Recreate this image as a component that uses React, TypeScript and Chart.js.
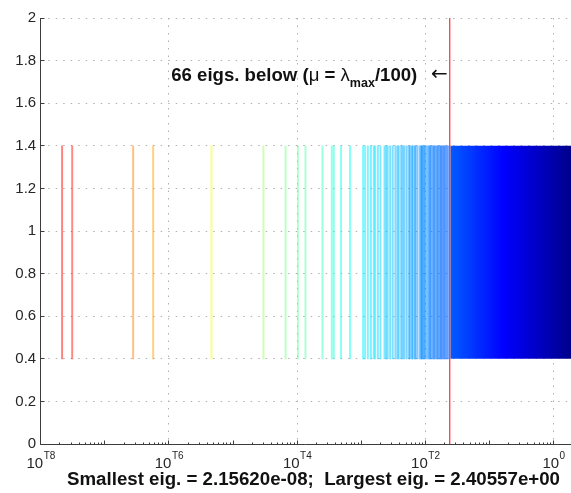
import { useEffect, useRef } from "react";
import { Chart, registerables } from "chart.js";

Chart.register(...registerables);

// ---- data ----
const eigsBelow: number[] = [
  2.1562e-8, 3.10e-8, 2.77e-7, 5.68e-7, 4.61e-6, 2.98e-5, 6.62e-5, 1.03e-4, 1.35e-4, 2.49e-4,
  3.48e-4, 3.74e-4, 4.84e-4, 6.70e-4, 1.07e-3, 1.15e-3, 1.27e-3, 1.42e-3, 1.57e-3, 1.65e-3,
  1.82e-3, 2.00e-3, 2.31e-3, 2.45e-3, 2.59e-3, 2.83e-3, 3.10e-3, 3.42e-3, 3.68e-3, 3.85e-3,
  4.20e-3, 4.45e-3, 4.72e-3, 5.13e-3, 5.57e-3, 5.79e-3, 6.19e-3, 6.37e-3, 6.84e-3, 7.02e-3,
  7.53e-3, 8.20e-3, 8.61e-3, 8.85e-3, 9.02e-3, 9.51e-3, 9.75e-3, 1.03e-2, 1.10e-2, 1.16e-2,
  1.19e-2, 1.24e-2, 1.31e-2, 1.36e-2, 1.41e-2, 1.49e-2, 1.55e-2, 1.60e-2, 1.69e-2, 1.75e-2,
  1.82e-2, 1.91e-2, 1.98e-2, 2.06e-2, 2.17e-2, 2.29e-2,
];
const smallestEig = 2.1562e-8;
const largestEig = 2.40557;
const denseStart = 2.45e-2; // start of the continuous (dense) band of eigenvalues
const mu = largestEig / 100;
const lineRange: [number, number] = [0.4, 1.4];

const yTickValues = [0, 0.2, 0.4, 0.6, 0.8, 1, 1.2, 1.4, 1.6, 1.8, 2];
const xLabelDecades = [1e-8, 1e-6, 1e-4, 1e-2, 1];
const xLabelExponents = ["T8", "T6", "T4", "T2", "0"];
const xMin = 1e-8;
const xMax = 1.875;
const yMin = 0;
const yMax = 2;

const annotationText = "66 eigs. below (";
const titleText = "Smallest eig. = 2.15620e-08;  Largest eig. = 2.40557e+00";

// ---- colormap (jet, reversed over log eigenvalue) ----
const clamp = (v: number) => Math.max(0, Math.min(1, v));
function jetColor(v: number, alpha: number): string {
  const lMin = Math.log10(smallestEig);
  const lMax = Math.log10(largestEig);
  const t = (0.87 * (lMax - Math.log10(v))) / (lMax - lMin);
  const r = clamp(1.5 - Math.abs(4 * t - 3));
  const g = clamp(1.5 - Math.abs(4 * t - 2));
  const b = clamp(1.5 - Math.abs(4 * t - 1));
  return `rgba(${Math.round(r * 255)},${Math.round(g * 255)},${Math.round(b * 255)},${alpha})`;
}

const FONT = "'Liberation Sans', Arial, sans-serif";

const decorPlugin = {
  id: "decor",
  beforeDatasetsDraw(chart: any) {
    const { ctx, chartArea: a, scales } = chart;
    const x = scales.x;
    const y = scales.y;
    ctx.save();
    ctx.strokeStyle = "#b0b0b0";
    ctx.lineWidth = 1;
    ctx.setLineDash([1.5, 6]);
    for (const v of yTickValues) {
      if (v === yMin) continue;
      const py = Math.floor(y.getPixelForValue(v)) + 0.5;
      ctx.beginPath();
      ctx.moveTo(a.left, py);
      ctx.lineTo(a.right, py);
      ctx.stroke();
    }
    for (const d of xLabelDecades) {
      if (d === xMin) continue;
      const px = Math.floor(x.getPixelForValue(d)) + 0.5;
      ctx.beginPath();
      ctx.moveTo(px, a.top);
      ctx.lineTo(px, a.bottom);
      ctx.stroke();
    }
    ctx.restore();
  },
  afterDatasetsDraw(chart: any) {
    const { ctx, chartArea: a, scales } = chart;
    const x = scales.x;
    const y = scales.y;
    ctx.save();
    // axes
    ctx.strokeStyle = "#3c3c3c";
    ctx.lineWidth = 1;
    const lx = Math.floor(a.left) + 0.5;
    const by = Math.floor(a.bottom) + 0.5;
    ctx.beginPath();
    ctx.moveTo(lx, a.top);
    ctx.lineTo(lx, by);
    ctx.lineTo(a.right, by);
    ctx.stroke();
    // y ticks
    for (const v of yTickValues) {
      const py = Math.floor(y.getPixelForValue(v)) + 0.5;
      ctx.beginPath();
      ctx.moveTo(lx, py);
      ctx.lineTo(lx + 4, py);
      ctx.stroke();
    }
    // x ticks: major at every decade, minor in between
    for (let e = -8; e <= 0; e++) {
      for (let k = 1; k <= 9; k++) {
        const v = k * Math.pow(10, e);
        if (v < xMin || v > xMax) continue;
        const px = Math.floor(x.getPixelForValue(v)) + 0.5;
        const len = k === 1 ? 4 : 2;
        ctx.beginPath();
        ctx.moveTo(px, by);
        ctx.lineTo(px, by - len);
        ctx.stroke();
      }
    }
    // x tick labels 10^...
    ctx.fillStyle = "#262626";
    ctx.textBaseline = "alphabetic";
    ctx.textAlign = "left";
    xLabelDecades.forEach((d, i) => {
      const cx = x.getPixelForValue(d);
      ctx.font = `15px ${FONT}`;
      const w1 = ctx.measureText("10").width;
      ctx.font = `10px ${FONT}`;
      const w2 = ctx.measureText(xLabelExponents[i]).width;
      const start = cx - (w1 + w2) / 2;
      ctx.font = `15px ${FONT}`;
      ctx.fillText("10", start, 467.5);
      ctx.font = `10px ${FONT}`;
      ctx.fillText(xLabelExponents[i], start + w1 + 0.5, 458.5);
    });
    // annotation
    const muPx = x.getPixelForValue(mu);
    let tx = muPx - 278.5;
    const base = 80.7;
    ctx.fillStyle = "#111";
    const put = (s: string, font: string, dy = 0) => {
      ctx.font = font;
      ctx.fillText(s, tx, base + dy);
      tx += ctx.measureText(s).width;
    };
    put(annotationText, `bold 18.6px ${FONT}`);
    put("\u03bc", `18.6px ${FONT}`);
    put(" = ", `bold 18.6px ${FONT}`);
    put("\u03bb", `18.6px ${FONT}`);
    put("max", `bold 12.5px ${FONT}`, 6.5);
    put("/100)", `bold 18.6px ${FONT}`);
    ctx.font = `20px 'DejaVu Sans', ${FONT}`;
    ctx.textAlign = "right";
    ctx.fillText("\u2190", muPx - 2, base - 1);
    // title (x label)
    ctx.font = `bold 18.7px ${FONT}`;
    ctx.textAlign = "center";
    ctx.fillStyle = "#111";
    ctx.fillText(titleText, 313.5, 485);
    ctx.restore();
  },
};

function bandGradient(c: any) {
  const chart = c.chart;
  const xs = chart.scales?.x;
  if (!chart.chartArea || !xs) return "rgb(0,0,200)";
  const l0 = Math.log10(denseStart);
  const l1 = Math.log10(largestEig);
  const p0 = xs.getPixelForValue(denseStart);
  const p1 = xs.getPixelForValue(largestEig);
  const g = chart.ctx.createLinearGradient(p0, 0, p1, 0);
  const n = 24;
  for (let i = 0; i <= n; i++) {
    const f = i / n;
    g.addColorStop(f, jetColor(Math.pow(10, l0 + f * (l1 - l0)), 1));
  }
  return g;
}

export default function App() {
  const ref = useRef<HTMLCanvasElement>(null);
  useEffect(() => {
    document.body.style.margin = "0";
    const canvas = ref.current!;
    const chart = new Chart(canvas, {
      type: "bar",
      data: {
        datasets: [
          {
            type: "line",
            data: [
              { x: mu, y: yMin },
              { x: mu, y: yMax },
            ],
            borderColor: "rgb(255,45,45)",
            borderWidth: 1.2,
            pointRadius: 0,
            order: 0,
          } as any,
          {
            type: "bar",
            data: eigsBelow.map((v) => ({ x: v, y: lineRange })),
            backgroundColor: (c: any) => (c.raw ? jetColor(c.raw.x, 0.5) : "red"),
            barThickness: 1.3,
            borderWidth: 0,
            order: 1,
          } as any,
          {
            type: "line",
            data: [
              { x: denseStart, y: lineRange[1] },
              { x: largestEig, y: lineRange[1] },
            ],
            fill: { value: lineRange[0] },
            borderWidth: 0,
            pointRadius: 0,
            backgroundColor: bandGradient,
            order: 2,
          } as any,
        ],
      },
      options: {
        responsive: false,
        animation: false,
        devicePixelRatio: 1,
        layout: { padding: { top: 18, left: 0, right: 0, bottom: 0 } },
        plugins: { legend: { display: false }, tooltip: { enabled: false }, title: { display: false } },
        scales: {
          x: {
            type: "logarithmic",
            min: xMin,
            max: xMax,
            offset: false,
            grid: { display: false, drawTicks: false },
            border: { display: false },
            ticks: { display: false },
            afterFit: (s: any) => {
              s.height = 49;
            },
          },
          y: {
            type: "linear",
            min: yMin,
            max: yMax,
            grid: { display: false, drawTicks: false },
            border: { display: false },
            ticks: {
              stepSize: 0.2,
              padding: 4.5,
              color: "#262626",
              font: { family: "'Liberation Sans', Arial, sans-serif", size: 15 },
              callback: (v: any) => String(+Number(v).toFixed(1)),
            },
            afterFit: (s: any) => {
              s.width = 40.7;
            },
          },
        },
      } as any,
      plugins: [decorPlugin],
    });
    return () => chart.destroy();
  }, []);
  return (
    <div style={{ width: 571, height: 493 }}>
      <canvas ref={ref} width={571} height={493} style={{ display: "block" }} />
    </div>
  );
}
